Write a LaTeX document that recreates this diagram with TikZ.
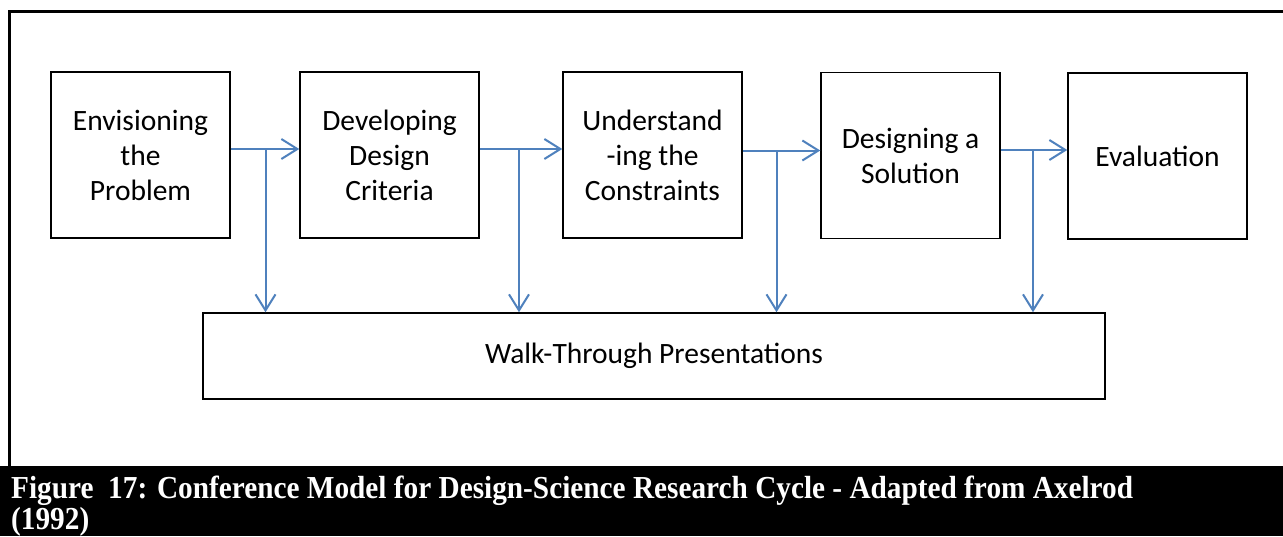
\documentclass[tikz,border=0pt]{standalone}
\usepackage{fontspec}
\setmainfont{Carlito}
\newfontfamily\capfont{Liberation Serif}[FakeStretch=0.915]
\usetikzlibrary{arrows.meta}
\definecolor{arrblue}{RGB}{79,129,189}
\tikzset{
  stagebox/.style={draw=black, line width=1.5pt, minimum width=179pt, minimum height=166pt, inner sep=0pt, align=center, font=\fontsize{29.5}{35}\selectfont},
  walkbox/.style={draw=black, line width=1.5pt, minimum width=902pt, minimum height=86pt, inner sep=0pt, font=\fontsize{29.5}{35}\selectfont},
  flow/.style={draw=arrblue, line width=2pt, -{Straight Barb[length=16pt,width=20pt,line width=2pt]}},
  frame/.style={draw=black, line width=3pt},
}
\begin{document}
\begin{tikzpicture}[x=1pt,y=-1pt]
\useasboundingbox (0,0) rectangle (1283,536);
\fill[white] (0,0) rectangle (1283,536);
\draw[frame] (9.5,466) -- (9.5,11) -- (1283,11);
\fill[black] (0,466) rectangle (1283,536);
\node[stagebox] (b1) at (140.5,155) {Envisioning\\the\\Problem};
\node[stagebox] (b2) at (389.5,155) {Developing\\Design\\Criteria};
\node[stagebox] (b3) at (652.5,155) {Understand\\-ing the\\Constraints};
\node[stagebox] (b4) at (910.5,155.5) {Designing a\\Solution};
\node[stagebox] (b5) at (1157.5,156) {Evaluation};
\node[walkbox] (w) at (654,356) {Walk-Through Presentations};
\coordinate (j1) at (265.5,149);
\coordinate (j2) at (519,149);
\coordinate (j3) at (776.5,150.5);
\coordinate (j4) at (1033,150);
\draw[flow] (b1.east |- j1) -- (b2.west |- j1);
\draw[flow] (b2.east |- j2) -- (b3.west |- j2);
\draw[flow] (b3.east |- j3) -- (b4.west |- j3);
\draw[flow] (b4.east |- j4) -- (b5.west |- j4);
\draw[flow] (j1) -- (j1 |- w.north);
\draw[flow] (j2) -- (j2 |- w.north);
\draw[flow] (j3) -- (j3 |- w.north);
\draw[flow] (j4) -- (j4 |- w.north);
\node[anchor=base west, text=white, inner sep=0pt, align=left, font=\capfont\bfseries\fontsize{32}{31}\selectfont] (cap) at (11,529) {Figure\ \ 17: Conference Model for Design-Science Research Cycle - Adapted from Axelrod\\(1992)};
\end{tikzpicture}
\end{document}
